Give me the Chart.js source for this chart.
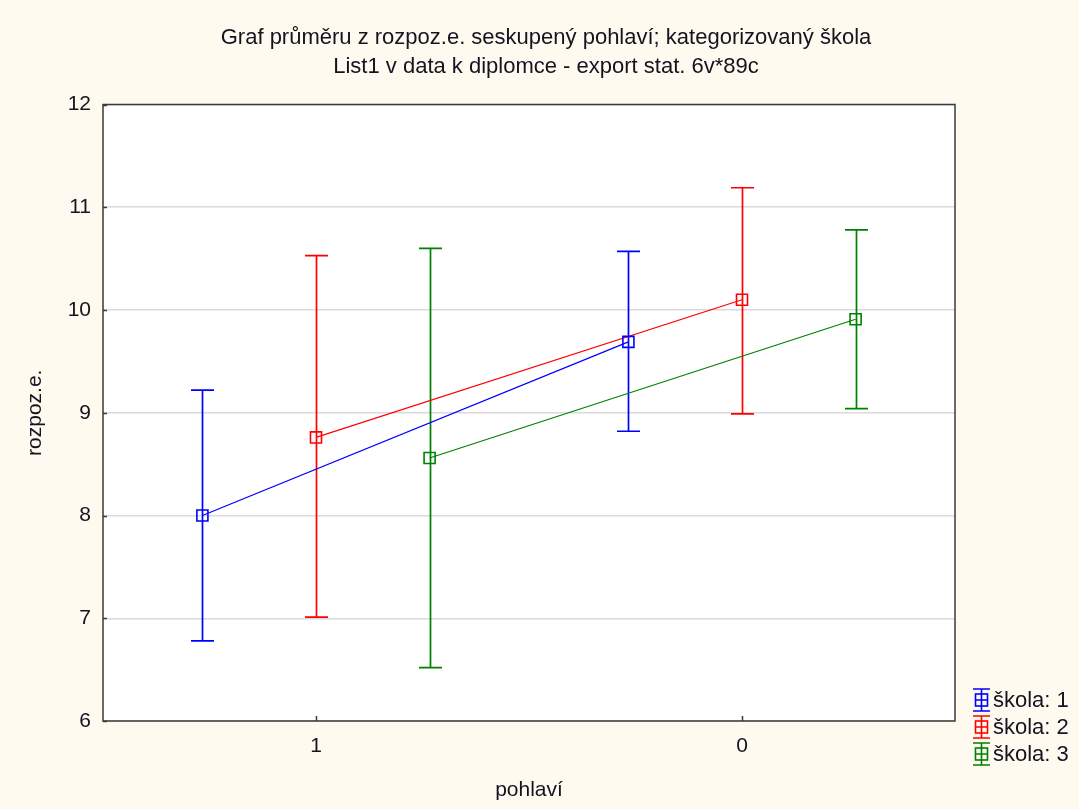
<!DOCTYPE html>
<html>
<head>
<meta charset="utf-8">
<title>Graf průměru z rozpoz.e.</title>
<script src="https://cdn.jsdelivr.net/npm/chart.js@4.4.1/dist/chart.umd.min.js"></script>
<style>
  html, body { margin: 0; padding: 0; background: #fffaf0; }
  #wrap { width: 1079px; height: 809px; }
</style>
</head>
<body>
<div id="wrap"><canvas id="c" width="1079" height="809"></canvas></div>
<script>
// Categories of "pohlaví" along the x axis (in display order)
const categories = ['1', '0'];
const seriesNames = ['škola: 1', 'škola: 2', 'škola: 3'];
const seriesColors = ['#0000ff', '#ff0000', '#008000'];

// Means and confidence limits of rozpoz.e. per school, per category
const meansSkola1 = [8.00, 9.69];
const lowerSkola1 = [6.78, 8.82];
const upperSkola1 = [9.22, 10.57];

const meansSkola2 = [8.76, 10.10];
const lowerSkola2 = [7.01, 8.99];
const upperSkola2 = [10.53, 11.19];

const meansSkola3 = [8.56, 9.91];
const lowerSkola3 = [6.52, 9.04];
const upperSkola3 = [10.60, 10.78];

const yTickValues = [6, 7, 8, 9, 10, 11, 12];

const titleLines = [
  'Graf průměru z rozpoz.e. seskupený pohlaví; kategorizovaný škola',
  'List1 v data k diplomce - export stat. 6v*89c'
];

const FONT = '"Liberation Sans", Arial, sans-serif';
const TEXT_COLOR = '#141420';

const means = [meansSkola1, meansSkola2, meansSkola3];
const lowers = [lowerSkola1, lowerSkola2, lowerSkola3];
const uppers = [upperSkola1, upperSkola2, upperSkola3];

// Each school is shifted sideways around its category position
const groupShift = 4 / 15;
const xOf = (catIdx, s) => catIdx + 1 + (s - 1) * groupShift;

const datasets = seriesNames.map((name, s) => ({
  label: name,
  data: means[s].map((m, i) => ({ x: xOf(i, s), y: m, lo: lowers[s][i], hi: uppers[s][i] })),
  showLine: true,
  borderColor: seriesColors[s],
  borderWidth: 1.2,
  pointStyle: 'rect',
  pointRadius: 7.8,
  pointHoverRadius: 7.8,
  pointBorderWidth: 1.6,
  pointBackgroundColor: 'rgba(0,0,0,0)',
  pointBorderColor: seriesColors[s],
  yAxisID: 'y'
}));

// Page background, white plot area
const backdrop = {
  id: 'backdrop',
  beforeDraw(chart) {
    const { ctx, chartArea: a } = chart;
    ctx.save();
    ctx.fillStyle = '#fffaf0';
    ctx.fillRect(0, 0, chart.width, chart.height);
    ctx.fillStyle = '#ffffff';
    ctx.fillRect(a.left, a.top, a.right - a.left, a.bottom - a.top);
    ctx.restore();
  }
};

// Vertical error bars with caps, drawn beneath the markers
const errorBars = {
  id: 'errorBars',
  beforeDatasetsDraw(chart) {
    const { ctx } = chart;
    const xs = chart.scales.x, ys = chart.scales.y;
    ctx.save();
    ctx.lineWidth = 1.7;
    chart.data.datasets.forEach((ds, s) => {
      ctx.strokeStyle = seriesColors[s];
      ds.data.forEach(p => {
        const px = Math.round(xs.getPixelForValue(p.x)) + 0.5;
        const yLo = ys.getPixelForValue(p.lo);
        const yHi = ys.getPixelForValue(p.hi);
        const cap = 11.5;
        ctx.beginPath();
        ctx.moveTo(px, yLo); ctx.lineTo(px, yHi);
        ctx.moveTo(px - cap, yHi); ctx.lineTo(px + cap, yHi);
        ctx.moveTo(px - cap, yLo); ctx.lineTo(px + cap, yLo);
        ctx.stroke();
      });
    });
    ctx.restore();
  }
};

// Plot frame and inward tick marks
const frame = {
  id: 'frame',
  afterDatasetsDraw(chart) {
    const { ctx, chartArea: a } = chart;
    const xs = chart.scales.x, ys = chart.scales.y;
    ctx.save();
    ctx.strokeStyle = '#3a3a3a';
    ctx.lineWidth = 1.5;
    ctx.strokeRect(a.left, a.top, a.right - a.left, a.bottom - a.top);
    ctx.beginPath();
    yTickValues.forEach(v => {
      const py = Math.round(ys.getPixelForValue(v)) + 0.5;
      ctx.moveTo(a.left, py); ctx.lineTo(a.left + 4, py);
    });
    categories.forEach((c, i) => {
      const px = Math.round(xs.getPixelForValue(i + 1)) + 0.5;
      ctx.moveTo(px, a.bottom); ctx.lineTo(px, a.bottom - 5);
    });
    ctx.stroke();
    ctx.restore();
  }
};

// Legend in the lower right corner, outside the plot
const sideLegend = {
  id: 'sideLegend',
  afterDraw(chart) {
    const { ctx, chartArea: a } = chart;
    ctx.save();
    ctx.font = '22px ' + FONT;
    ctx.textBaseline = 'middle';
    ctx.textAlign = 'left';
    chart.data.datasets.forEach((ds, s) => {
      const cy = a.bottom - 21 + s * 27;
      const cx = a.right + 26.5;
      ctx.strokeStyle = seriesColors[s];
      ctx.lineWidth = 1.6;
      ctx.beginPath();
      ctx.moveTo(cx, cy - 11); ctx.lineTo(cx, cy + 11);
      ctx.moveTo(cx - 8.5, cy - 11); ctx.lineTo(cx + 8.5, cy - 11);
      ctx.moveTo(cx - 8.5, cy + 11); ctx.lineTo(cx + 8.5, cy + 11);
      ctx.moveTo(cx - 6, cy); ctx.lineTo(cx + 6, cy);
      ctx.stroke();
      ctx.strokeRect(cx - 6, cy - 6, 12, 12);
      ctx.fillStyle = TEXT_COLOR;
      ctx.fillText(ds.label, a.right + 38, cy + 1);
    });
    ctx.restore();
  }
};

new Chart(document.getElementById('c'), {
  type: 'scatter',
  data: { datasets },
  options: {
    responsive: false,
    animation: false,
    devicePixelRatio: 1,
    layout: { padding: { left: 13, right: 0, top: 0, bottom: 0 } },
    plugins: {
      legend: { display: false },
      tooltip: { enabled: false },
      title: {
        display: true,
        text: titleLines,
        color: TEXT_COLOR,
        font: { family: FONT, size: 22, weight: 'normal', lineHeight: 29 / 22 },
        padding: { top: 23.5, bottom: 23 }
      }
    },
    scales: {
      x: {
        type: 'linear',
        min: 0.5,
        max: 2.5,
        afterBuildTicks(scale) {
          scale.ticks = categories.map((c, i) => ({ value: i + 1 }));
        },
        afterFit(scale) { scale.height = 88; },
        grid: { display: false, drawTicks: false },
        border: { display: false },
        ticks: {
          color: TEXT_COLOR,
          font: { family: FONT, size: 21 },
          padding: 13,
          callback: v => categories[Math.round(v) - 1]
        },
        title: {
          display: true,
          text: 'pohlaví',
          color: TEXT_COLOR,
          font: { family: FONT, size: 21 },
          padding: { top: 10, bottom: 6 }
        }
      },
      y: {
        type: 'linear',
        position: 'left',
        min: 6,
        max: 12,
        afterBuildTicks(scale) {
          scale.ticks = yTickValues.map(v => ({ value: v }));
        },
        afterFit(scale) { scale.width = 90; },
        grid: { color: '#dadada', lineWidth: 1.5, drawTicks: false },
        border: { display: false },
        ticks: {
          color: TEXT_COLOR,
          font: { family: FONT, size: 21 },
          padding: 12
        },
        title: {
          display: true,
          text: 'rozpoz.e.',
          color: TEXT_COLOR,
          font: { family: FONT, size: 21 },
          padding: { top: 10, bottom: 0 }
        }
      },
      side: {
        type: 'linear',
        position: 'right',
        display: true,
        afterFit(scale) { scale.width = 124; },
        grid: { display: false, drawTicks: false },
        border: { display: false },
        ticks: { display: false }
      }
    }
  },
  plugins: [backdrop, errorBars, frame, sideLegend]
});
</script>
</body>
</html>
